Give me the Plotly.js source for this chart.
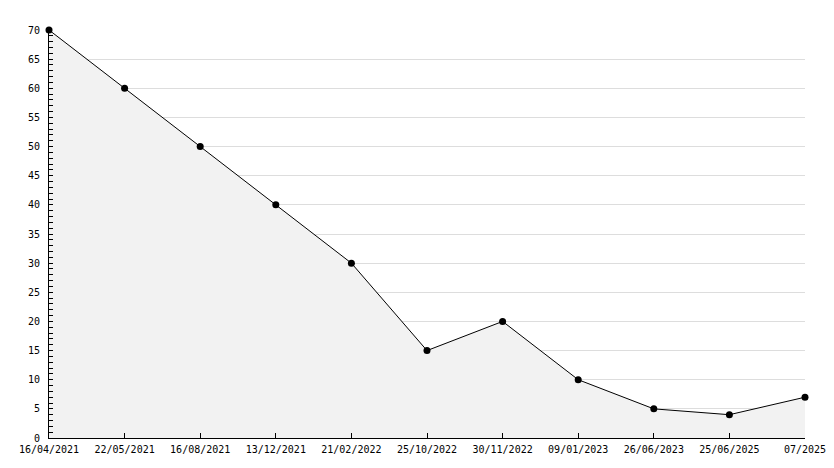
<!DOCTYPE html>
<html>
<head>
<meta charset="utf-8">
<script src="https://cdn.plot.ly/plotly-3.0.1.min.js"></script>
<style>html,body{margin:0;padding:0;background:#fff;}#chart{width:834px;height:468px;}</style>
</head>
<body>
<div id="chart"></div>
<script>
const dates = ["16/04/2021","22/05/2021","16/08/2021","13/12/2021","21/02/2022","25/10/2022","30/11/2022","09/01/2023","26/06/2023","25/06/2025","07/2025"];
const values = [70, 60, 50, 40, 30, 15, 20, 10, 5, 4, 7];

const trace = {
  x: dates,
  y: values,
  type: "scatter",
  mode: "lines+markers",
  fill: "tozeroy",
  fillcolor: "#f2f2f2",
  line: {color: "#000", width: 1},
  marker: {color: "#000", size: 7, symbol: "circle"},
  cliponaxis: false,
  hoverinfo: "x+y"
};

const layout = {
  width: 834, height: 468,
  margin: {l: 49, r: 29, t: 30, b: 30},
  paper_bgcolor: "#fff",
  plot_bgcolor: "#fff",
  showlegend: false,
  font: {family: "DejaVu Sans Mono, monospace", size: 10, color: "#000"},
  xaxis: {
    type: "category",
    range: [0, dates.length - 1],
    showline: true, linecolor: "#000", linewidth: 1,
    ticks: "inside", ticklen: 5, tickcolor: "#000",
    showgrid: false, zeroline: false,
    ticklabelstandoff: 2,
    tickfont: {family: "DejaVu Sans Mono, monospace", size: 10, color: "#000"}
  },
  yaxis: {
    range: [0, 70],
    dtick: 5, tick0: 0,
    showline: true, linecolor: "#000", linewidth: 1,
    ticks: "inside", ticklen: 4, tickcolor: "#000",
    showgrid: true, gridcolor: "#dddddd", gridwidth: 1,
    zeroline: false,
    ticklabelstandoff: 6,
    minor: {dtick: 1, ticks: "inside", ticklen: 4, tickcolor: "#000", showgrid: false},
    tickfont: {family: "DejaVu Sans Mono, monospace", size: 10, color: "#000"}
  }
};

Plotly.newPlot("chart", [trace], layout, {displayModeBar: false, staticPlot: true});
</script>
</body>
</html>
